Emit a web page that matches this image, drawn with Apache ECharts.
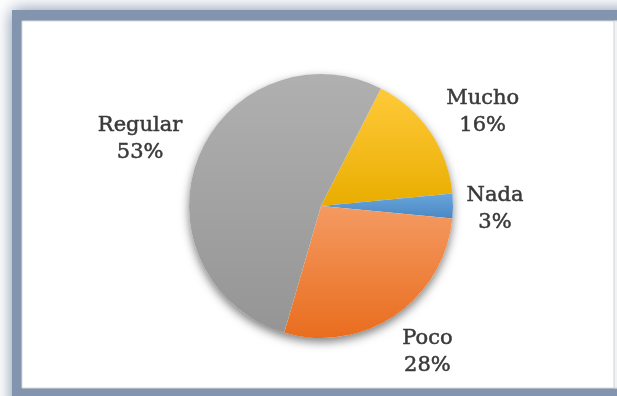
<!DOCTYPE html>
<html>
<head>
<meta charset="utf-8">
<script src="https://cdn.jsdelivr.net/npm/echarts@6/dist/echarts.min.js"></script>
<style>
  html, body { margin: 0; padding: 0; background: #ffffff; }
  #chart { width: 617px; height: 396px; }
</style>
</head>
<body>
<div id="chart"></div>
<script>
// Survey answers and their shares (percent)
const categories = ['Mucho', 'Nada', 'Poco', 'Regular'];
const percents = [16, 3, 28, 53];

// Slice fills: light top -> darker bottom
const sliceColors = [
  ['#ffca3a', '#e9ad00'],
  ['#6aa6dc', '#4a88c4'],
  ['#f49a62', '#e96d1e'],
  ['#b0b0b0', '#959595']
];

const center = [321, 206];
const radius = 132;
const startFromTop = 27;            // first slice boundary, degrees clockwise from 12 o'clock
const labelDist = [187, 174, 181, 193];
const labelTurn = [4, 1, -1.8, -1.2]; // small angular nudges of each label

const total = percents.reduce((a, b) => a + b, 0);
const midAngles = [];
let acc = 0;
percents.forEach(v => {
  midAngles.push(startFromTop + (acc + v / 2) / total * 360);
  acc += v;
});

function grad(c) {
  return new echarts.graphic.LinearGradient(0, 0, 0, 1, [
    { offset: 0, color: c[0] },
    { offset: 1, color: c[1] }
  ]);
}

const chart = echarts.init(document.getElementById('chart'), null, { renderer: 'canvas' });

chart.setOption({
  animation: false,
  backgroundColor: '#ffffff',
  graphic: [
    {
      type: 'rect', z: -20, silent: true,
      shape: { x: 12, y: 10, width: 640, height: 420 },
      style: { fill: '#8294ae', shadowBlur: 16, shadowColor: 'rgba(110,130,160,0.9)' }
    },
    {
      type: 'rect', z: -19, silent: true,
      shape: { x: 22, y: 21, width: 640, height: 367 },
      style: { fill: '#ffffff', stroke: '#d6d9de', lineWidth: 1 }
    },
    {
      type: 'rect', z: -18, silent: true,
      shape: { x: 614, y: 21, width: 4, height: 367 },
      style: { fill: '#f1f2f4', stroke: '#d0d3d8', lineWidth: 1 }
    }
  ],
  series: [
    {
      // soft drop shadow under the whole pie
      type: 'pie',
      silent: true,
      center: center,
      radius: radius,
      startAngle: 90 - startFromTop,
      label: { show: false },
      labelLine: { show: false },
      itemStyle: {
        color: '#ffffff',
        shadowBlur: 10,
        shadowOffsetY: 4,
        shadowColor: 'rgba(0,0,0,0.5)'
      },
      data: [{ value: total, name: 'total' }]
    },
    {
      type: 'pie',
      silent: true,
      center: center,
      radius: radius,
      startAngle: 90 - startFromTop,
      clockwise: true,
      itemStyle: { borderWidth: 0 },
      labelLine: { show: false },
      label: {
        show: true,
        position: 'outside',
        formatter: p => p.name + '\n' + p.value + '%',
        fontFamily: "'DejaVu Serif', serif",
        fontSize: 21,
        lineHeight: 27,
        color: '#3a3a3a',
        textBorderColor: '#3a3a3a',
        textBorderWidth: 0.5,
        align: 'center'
      },
      labelLayout: function (params) {
        const i = params.dataIndex;
        const a = (midAngles[i] + labelTurn[i]) * Math.PI / 180;
        return {
          x: center[0] + labelDist[i] * Math.sin(a),
          y: center[1] - labelDist[i] * Math.cos(a),
          align: 'center',
          verticalAlign: 'middle'
        };
      },
      data: categories.map((name, i) => ({
        name: name,
        value: percents[i],
        itemStyle: { color: grad(sliceColors[i]) }
      }))
    }
  ]
});
</script>
</body>
</html>
